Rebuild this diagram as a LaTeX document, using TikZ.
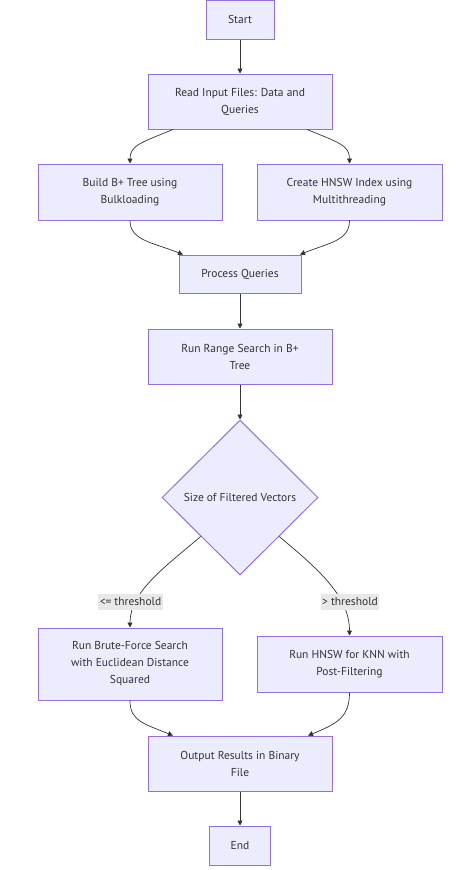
\documentclass[tikz,border=0pt]{standalone}
\usepackage{fontspec}
\setmainfont{PT Sans}
\usetikzlibrary{shapes.geometric,arrows.meta}
\definecolor{boxfill}{HTML}{ECECFF}
\definecolor{boxline}{HTML}{9370DB}
\definecolor{edgecol}{HTML}{333333}
\definecolor{lblbg}{HTML}{E8E8E8}
\begin{document}
\begin{tikzpicture}[x=1pt,y=-1pt,
  box/.style={draw=boxline,fill=boxfill,line width=1pt,align=center,text=edgecol,
    font=\fontsize{11.5}{17}\selectfont,inner sep=0pt},
  dec/.style={diamond,draw=boxline,fill=boxfill,line width=1pt,align=center,text=edgecol,
    font=\fontsize{11.5}{17}\selectfont,inner sep=0pt,minimum width=156pt,minimum height=155pt},
  conn/.style={draw=edgecol,line width=0.7pt,-{Triangle[length=5pt,width=5pt]}},
  lbl/.style={fill=lblbg,text=edgecol,font=\fontsize{11.5}{13}\selectfont,inner sep=1.5pt,
    minimum height=16pt}]
\useasboundingbox (0,0) rectangle (475,870);
\node[box,minimum width=68pt,minimum height=39pt] (start) at (240,19.5) {Start};
\node[box,minimum width=184pt,minimum height=55pt] (read) at (240,101.5) {Read Input Files: Data and\\Queries};
\node[box,minimum width=184pt,minimum height=56pt] (build) at (130,192) {Build B+ Tree using\\Bulkloading};
\node[box,minimum width=185pt,minimum height=56pt] (hnsw) at (349.5,192) {Create HNSW Index using\\Multithreading};
\node[box,minimum width=122pt,minimum height=38pt] (proc) at (240,274) {Process Queries};
\node[box,minimum width=184pt,minimum height=55pt] (range) at (240,356.5) {Run Range Search in B+\\Tree};
\node[dec] (size) at (240,497.5) {Size of Filtered Vectors};
\node[box,minimum width=184pt,minimum height=72pt] (brute) at (130,664) {Run Brute-Force Search\\with Euclidean Distance\\Squared};
\node[box,minimum width=185pt,minimum height=56pt] (knn) at (349.5,664) {Run HNSW for KNN with\\Post-Filtering};
\node[box,minimum width=184pt,minimum height=55pt] (out) at (240,763.5) {Output Results in Binary\\File};
\node[box,minimum width=61pt,minimum height=39pt] (end) at (240,845.5) {End};

\draw[conn] (start.south) -- (read.north);
\draw[conn] ([xshift=-67pt]read.south) .. controls +(-32,13) and +(0,-18) .. (build.north);
\draw[conn] ([xshift=67pt]read.south) .. controls +(32,13) and +(0,-18) .. (hnsw.north);
\draw[conn] (build.south) .. controls +(0,20) and +(-30,-12) .. ([xshift=-57pt]proc.north);
\draw[conn] (hnsw.south) .. controls +(0,20) and +(30,-12) .. ([xshift=60pt]proc.north);
\draw[conn] (proc.south) -- (range.north);
\draw[conn] (range.south) -- (size.north);
\draw[conn] (size.south west) .. controls +(-38,32) and +(0,-35) .. (brute.north);
\draw[conn] (size.south east) .. controls +(38,32) and +(0,-40) .. (knn.north);
\node[lbl] (le) at (130.5,602) {<= threshold};
\node[lbl] (gt) at (350,602) {> threshold};
\draw[conn] (brute.south) .. controls +(0,20) and +(-30,-12) .. ([xshift=-67pt]out.north);
\draw[conn] (knn.south) .. controls +(0,24) and +(30,-12) .. ([xshift=68pt]out.north);
\draw[conn] (out.south) -- (end.north);
\end{tikzpicture}
\end{document}
